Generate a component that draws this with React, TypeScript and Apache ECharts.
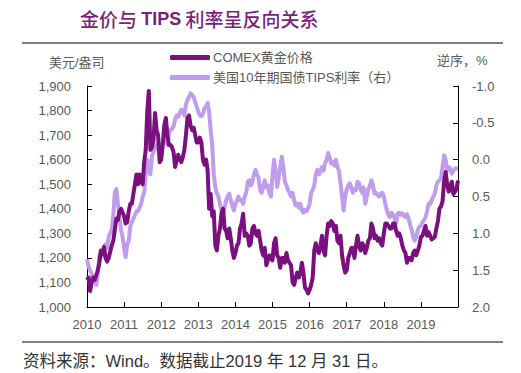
import React, { useEffect, useRef } from "react";
import * as echarts from "echarts";

const titleCn1 = "金价与 ";
const titleEn = "TIPS";
const titleCn2 = " 利率呈反向关系";
const leftUnit = "美元/盎司";
const rightUnit = "逆序，%";
const footnote = "资料来源：Wind。数据截止2019 年 12 月 31 日。";
const seriesNames = ["COMEX黄金价格", "美国10年期国债TIPS利率（右）"];

const startYear = 2010;
const pointsPerYear = 24;
const yearTicks = [2010, 2011, 2012, 2013, 2014, 2015, 2016, 2017, 2018, 2019];

// COMEX gold, USD/oz, two readings per month (2010-01 .. 2019-12) + year-end
const goldPrice = [
  1110, 1120, 1065, 1100, 1120, 1110, 1130, 1150, 1180, 1230, 1215, 1245, 1200, 1185, 1200, 1225, 1250, 1270, 1315, 1360, 1355, 1390, 1400, 1385,
  1370, 1340, 1345, 1390, 1420, 1420, 1460, 1500, 1540, 1500, 1540, 1510, 1500, 1590, 1640, 1800, 1880, 1640, 1650, 1680, 1790, 1720, 1700, 1590,
  1600, 1660, 1740, 1770, 1700, 1660, 1660, 1650, 1630, 1570, 1600, 1620, 1600, 1590, 1610, 1640, 1700, 1770, 1780, 1740, 1720, 1730, 1700, 1670,
  1670, 1690, 1670, 1600, 1580, 1600, 1560, 1400, 1460, 1370, 1390, 1250, 1230, 1290, 1320, 1380, 1400, 1320, 1310, 1280, 1320, 1280, 1230, 1200,
  1220, 1250, 1260, 1320, 1340, 1380, 1290, 1300, 1290, 1250, 1260, 1320, 1330, 1300, 1290, 1310, 1270, 1230, 1210, 1240, 1170, 1190, 1210, 1200,
  1190, 1260, 1280, 1210, 1200, 1160, 1200, 1200, 1180, 1220, 1190, 1180, 1170, 1100, 1090, 1120, 1140, 1120, 1140, 1180, 1140, 1080, 1070, 1055,
  1070, 1090, 1120, 1230, 1260, 1230, 1220, 1250, 1290, 1230, 1210, 1290, 1340, 1330, 1350, 1340, 1310, 1330, 1270, 1260, 1290, 1210, 1170, 1140,
  1150, 1200, 1220, 1240, 1240, 1200, 1250, 1290, 1250, 1230, 1260, 1250, 1220, 1240, 1270, 1280, 1340, 1320, 1280, 1290, 1270, 1280, 1260, 1250,
  1300, 1340, 1340, 1330, 1320, 1320, 1340, 1340, 1310, 1290, 1300, 1280, 1250, 1230, 1220, 1180, 1200, 1200, 1190, 1220, 1230, 1210, 1230, 1250,
  1285, 1290, 1310, 1330, 1290, 1305, 1290, 1275, 1280, 1285, 1320, 1350, 1400, 1410, 1430, 1510, 1550, 1500, 1470, 1490, 1510, 1460, 1470, 1480,
  1515,
];

// US 10Y TIPS real yield, %, same dates
const tipsYield = [
  1.35, 1.45, 1.5, 1.55, 1.6, 1.65, 1.7, 1.55, 1.3, 1.25, 1.3, 1.2, 1.15, 1.2, 1.05, 1.0, 0.95, 0.75, 0.45, 0.4, 0.6, 0.78, 0.95, 1.05,
  1.2, 1.32, 1.15, 1.1, 0.9, 0.85, 0.8, 0.75, 0.7, 0.7, 0.65, 0.6, 0.5, 0.45, 0.2, 0.0, 0.1, 0.2, -0.05, -0.1, -0.15, -0.2, -0.22, -0.2,
  -0.2, -0.22, -0.25, -0.3, -0.2, -0.36, -0.4, -0.42, -0.45, -0.55, -0.6, -0.58, -0.63, -0.68, -0.65, -0.6, -0.75, -0.81, -0.85, -0.9, -0.88, -0.85, -0.78, -0.72,
  -0.65, -0.6, -0.59, -0.62, -0.7, -0.72, -0.77, -0.65, -0.4, -0.2, 0.2, 0.37, 0.46, 0.5, 0.6, 0.7, 0.78, 0.65, 0.55, 0.5, 0.46, 0.55, 0.62, 0.69,
  0.6, 0.55, 0.5, 0.55, 0.55, 0.6, 0.5, 0.45, 0.3, 0.28, 0.35, 0.3, 0.2, 0.14, 0.2, 0.25, 0.41, 0.45, 0.35, 0.28, 0.38, 0.35, 0.45, 0.5,
  0.2, 0.0, 0.15, 0.37, 0.25, 0.1, -0.04, 0.1, 0.3, 0.35, 0.41, 0.45, 0.5, 0.45, 0.55, 0.62, 0.6, 0.65, 0.6, 0.69, 0.72, 0.68, 0.7, 0.66,
  0.6, 0.45, 0.41, 0.35, 0.2, 0.14, 0.2, 0.15, 0.1, 0.15, 0.05, 0.0, -0.09, -0.02, 0.05, 0.03, 0.08, 0.0, 0.1, 0.15, 0.32, 0.5, 0.69, 0.5,
  0.4, 0.35, 0.32, 0.38, 0.45, 0.4, 0.41, 0.3, 0.32, 0.4, 0.45, 0.38, 0.6, 0.5, 0.4, 0.35, 0.28, 0.35, 0.46, 0.45, 0.48, 0.5, 0.46, 0.45,
  0.5, 0.6, 0.69, 0.75, 0.78, 0.72, 0.75, 0.8, 0.85, 0.73, 0.72, 0.75, 0.73, 0.76, 0.78, 0.74, 0.8, 0.88, 0.95, 1.05, 1.1, 1.05, 0.95, 0.91,
  0.9, 0.85, 0.82, 0.78, 0.7, 0.6, 0.6, 0.55, 0.5, 0.46, 0.35, 0.3, 0.28, 0.25, 0.1, -0.06, 0.0, 0.15, 0.1, 0.12, 0.19, 0.15, 0.12, 0.12,
  0.12,
];

const goldColor = "#7B0F7E";
const tipsColor = "#C09CEC";
const textGray = "#595959";
const latin = "'Liberation Sans', 'Noto Sans CJK SC', sans-serif";

const toPairs = (vals: number[]) => vals.map((v, i) => [startYear + i / pointsPerYear, v]);

export default function App() {
  const ref = useRef<HTMLDivElement>(null);
  useEffect(() => {
    document.body.style.margin = "0";
    if (!ref.current) return;
    const chart = echarts.init(ref.current, null, { renderer: "svg" });
    const axisLine = { show: true, onZero: false, lineStyle: { color: "#000", width: 1 } };
    const axisTick = { show: true, inside: true, length: 5, lineStyle: { color: "#000", width: 1 } };
    chart.setOption({
      animation: false,
      backgroundColor: "#fff",
      grid: { left: 87, right: 63, top: 86, bottom: 66 },
      legend: {
        orient: "vertical",
        left: 165,
        top: 46,
        itemWidth: 40,
        itemHeight: 5,
        itemGap: 7,
        icon: "roundRect",
        textStyle: { color: textGray, fontSize: 13, fontFamily: latin, padding: [0, 0, 0, -2] },
        data: seriesNames,
      },
      xAxis: {
        type: "value",
        min: yearTicks[0],
        max: yearTicks[yearTicks.length - 1] + 1,
        interval: 1,
        axisLine,
        axisTick,
        splitLine: { show: false },
        axisLabel: {
          color: textGray,
          fontSize: 13,
          fontFamily: latin,
          margin: 11,
          showMaxLabel: false,
          formatter: (v: number) => (yearTicks.includes(v) ? String(v) : ""),
        },
      },
      yAxis: [
        {
          type: "value",
          min: 1000,
          max: 1900,
          interval: 100,
          axisLine,
          axisTick,
          splitLine: { show: false },
          axisLabel: {
            color: textGray,
            fontSize: 13,
            fontFamily: latin,
            margin: 16,
            formatter: (v: number) => v.toLocaleString("en-US"),
          },
        },
        {
          type: "value",
          min: -1,
          max: 2,
          interval: 0.5,
          inverse: true,
          axisLine,
          axisTick,
          splitLine: { show: false },
          axisLabel: {
            color: textGray,
            fontSize: 13,
            fontFamily: latin,
            margin: 14,
            formatter: (v: number) => v.toFixed(1),
          },
        },
      ],
      series: [
        {
          name: seriesNames[0],
          type: "line",
          yAxisIndex: 0,
          data: toPairs(goldPrice),
          showSymbol: false,
          itemStyle: { color: goldColor },
          lineStyle: { color: goldColor, width: 4, join: "round" },
          z: 3,
        },
        {
          name: seriesNames[1],
          type: "line",
          yAxisIndex: 1,
          data: toPairs(tipsYield),
          showSymbol: false,
          itemStyle: { color: tipsColor },
          lineStyle: { color: tipsColor, width: 4, join: "round" },
          z: 2,
        },
      ],
      graphic: [
        {
          type: "text",
          left: 80,
          top: 9,
          style: {
            text: `{c|${titleCn1}}{e|${titleEn}}{c|${titleCn2}}`,
            rich: {
              c: { fontSize: 19, fontFamily: "'Noto Sans CJK SC', sans-serif", fill: "#7A1F7C", fontWeight: 500 },
              e: { fontSize: 18, fontFamily: "'Liberation Sans', sans-serif", fill: "#7A1F7C", fontWeight: "bold" },
            },
          },
        },
        {
          type: "line",
          shape: { x1: 22, y1: 43, x2: 503, y2: 43 },
          style: { stroke: "#000", lineWidth: 1.2 },
        },
        {
          type: "text",
          left: 49,
          top: 56,
          style: { text: leftUnit, fontSize: 13, fontFamily: latin, fill: textGray },
        },
        {
          type: "text",
          left: 437,
          top: 54,
          style: { text: rightUnit, fontSize: 13, fontFamily: latin, fill: textGray },
        },
        {
          type: "line",
          shape: { x1: 22, y1: 342, x2: 503, y2: 342 },
          style: { stroke: "#000", lineWidth: 1.2 },
        },
        {
          type: "text",
          left: 23,
          top: 353,
          style: { text: footnote, fontSize: 16.5, fontFamily: latin, fill: "#333" },
        },
      ],
    });
    return () => chart.dispose();
  }, []);
  return <div ref={ref} style={{ width: 521, height: 373 }} />;
}
